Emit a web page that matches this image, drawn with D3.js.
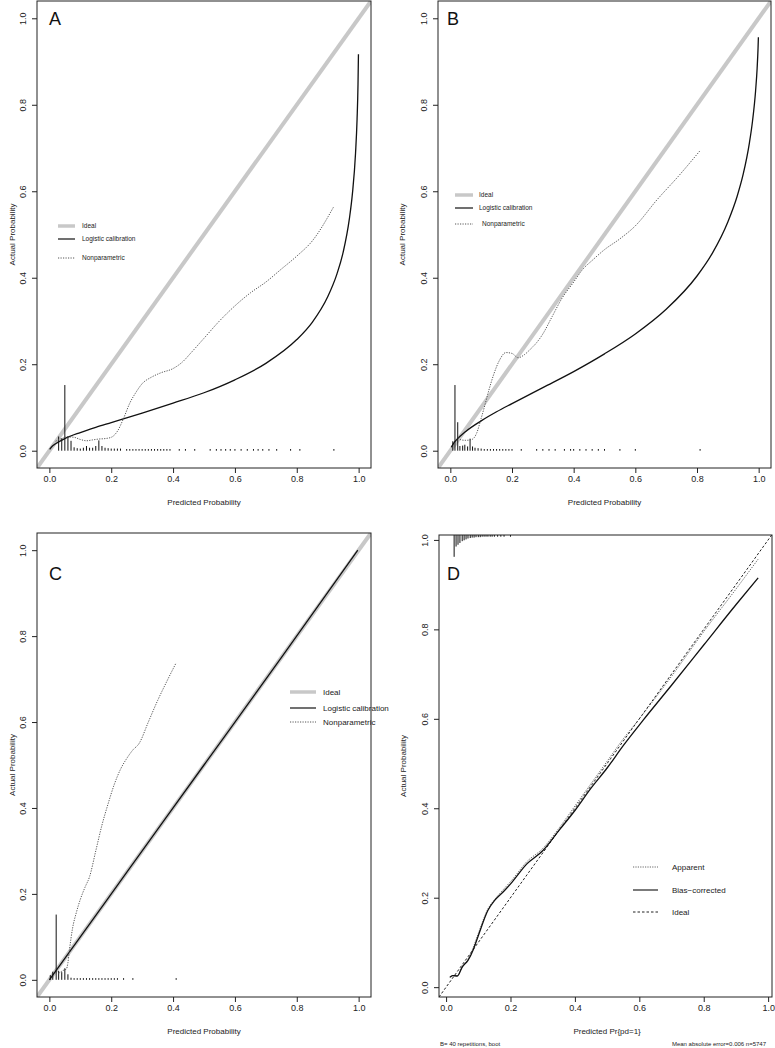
<!DOCTYPE html>
<html><head><meta charset="utf-8">
<script src="https://cdn.jsdelivr.net/npm/d3@7"></script>
<style>
body{margin:0;background:#fff;}
svg{display:block;font-family:"Liberation Sans",Arial,sans-serif;}
</style></head>
<body>
<svg id="chart" width="775" height="1048"></svg>
<script>
// ---------------- DATA ----------------
const tickVals = [0, 0.2, 0.4, 0.6, 0.8, 1.0];

// Panel A
const lcA_x = [0.001,0.01,0.02,0.05,0.1,0.15,0.2,0.3,0.4,0.5,0.6,0.7,0.8,0.85,0.9,0.93,0.95,0.97,0.98,0.99,0.995,0.998,0.9994];
const lcA_y = [0.003,0.011,0.016,0.028,0.042,0.054,0.065,0.087,0.11,0.134,0.164,0.202,0.257,0.297,0.356,0.409,0.459,0.536,0.595,0.688,0.767,0.848,0.917];
const npA_x = [0.02,0.04,0.06,0.08,0.1,0.12,0.14,0.16,0.18,0.2,0.22,0.24,0.26,0.28,0.3,0.33,0.36,0.4,0.43,0.46,0.5,0.55,0.6,0.65,0.7,0.75,0.8,0.85,0.92];
const npA_y = [0.022,0.028,0.032,0.031,0.026,0.023,0.025,0.027,0.028,0.031,0.045,0.075,0.11,0.135,0.155,0.17,0.18,0.19,0.205,0.228,0.26,0.3,0.335,0.365,0.39,0.42,0.45,0.485,0.565];
const rugA_x = [0.03,0.04,0.05,0.06,0.07,0.08,0.09,0.1,0.11,0.12,0.13,0.14,0.15,0.16,0.17,0.18,0.19,0.2,0.21,0.22,0.23,
  0.25,0.26,0.27,0.28,0.29,0.3,0.31,0.32,0.33,0.34,0.35,0.36,0.37,0.38,0.39,0.42,0.44,0.47,0.52,0.54,0.555,0.57,0.585,0.6,0.62,0.64,0.66,0.675,0.69,0.71,0.735,0.78,0.81,0.92];
const rugA_h = [0.031,0.027,0.15,0.031,0.021,0.006,0.004,0.003,0.005,0.009,0.005,0.005,0.009,0.022,0.009,0.005,0.004,0.003,0.003,0.003,0.003,
  0.002,0.002,0.002,0.002,0.002,0.002,0.002,0.002,0.002,0.002,0.002,0.002,0.002,0.002,0.002,0.002,0.002,0.002,0.002,0.002,0.002,0.002,0.002,0.002,0.002,0.002,0.002,0.002,0.002,0.002,0.002,0.002,0.002,0.002];

// Panel B
const lcB_x = [0.003,0.01,0.02,0.05,0.1,0.15,0.2,0.3,0.4,0.5,0.6,0.7,0.8,0.85,0.9,0.93,0.95,0.97,0.98,0.99,0.995,0.998,0.9991];
const lcB_y = [0.008,0.0165,0.025,0.0445,0.069,0.09,0.109,0.146,0.183,0.224,0.27,0.327,0.404,0.457,0.529,0.588,0.64,0.712,0.762,0.832,0.884,0.931,0.956];
const npB_x = [0.025,0.035,0.05,0.07,0.085,0.1,0.11,0.125,0.14,0.16,0.18,0.2,0.22,0.24,0.26,0.28,0.3,0.33,0.36,0.4,0.43,0.46,0.5,0.55,0.6,0.67,0.74,0.81];
const npB_y = [0.03,0.025,0.024,0.026,0.04,0.075,0.1,0.14,0.175,0.21,0.227,0.225,0.215,0.222,0.235,0.25,0.27,0.31,0.35,0.39,0.42,0.44,0.465,0.49,0.52,0.58,0.635,0.694];
const rugB_x = [0.008,0.015,0.024,0.031,0.04,0.047,0.056,0.064,0.072,0.08,0.09,0.1,0.11,0.12,0.13,0.14,0.15,0.16,0.17,0.18,0.19,0.2,0.23,0.28,0.3,0.32,0.34,0.37,0.39,0.4,0.42,0.44,0.46,0.48,0.5,0.55,0.6,0.81];
const rugB_h = [0.02,0.15,0.064,0.009,0.01,0.012,0.008,0.026,0.008,0.005,0.004,0.003,0.002,0.002,0.002,0.002,0.002,0.002,0.002,0.002,0.002,0.002,0.002,0.002,0.002,0.002,0.002,0.002,0.002,0.002,0.002,0.002,0.002,0.002,0.002,0.002,0.002,0.002];

// Panel C
const lcC_x = [0, 0.25, 0.5, 0.75, 0.997];
const lcC_y = [0, 0.25, 0.5, 0.75, 1.0];
const npC_x = [0.03,0.045,0.055,0.06,0.065,0.075,0.087,0.1,0.115,0.13,0.15,0.17,0.19,0.21,0.23,0.25,0.27,0.29,0.32,0.35,0.38,0.41];
const npC_y = [0.015,0.022,0.025,0.04,0.07,0.12,0.156,0.187,0.215,0.24,0.3,0.36,0.41,0.455,0.49,0.515,0.535,0.55,0.6,0.65,0.695,0.738];
const rugC_x = [0.003,0.011,0.022,0.03,0.04,0.05,0.06,0.07,0.08,0.09,0.1,0.11,0.12,0.13,0.14,0.15,0.16,0.17,0.18,0.19,0.2,0.21,0.22,0.24,0.27,0.41];
const rugC_h = [0.009,0.017,0.15,0.019,0.016,0.025,0.011,0.003,0.002,0.002,0.002,0.002,0.002,0.002,0.002,0.002,0.002,0.002,0.002,0.002,0.002,0.002,0.002,0.002,0.002,0.002];

// Panel D
const apD_x = [0.012,0.02,0.035,0.05,0.068,0.085,0.1,0.13,0.152,0.18,0.205,0.25,0.3,0.35,0.4,0.45,0.5,0.55,0.6,0.7,0.8,0.9,0.969];
const apD_y = [0.022,0.026,0.026,0.045,0.062,0.09,0.12,0.175,0.197,0.22,0.24,0.28,0.31,0.355,0.405,0.455,0.505,0.555,0.6,0.695,0.795,0.89,0.957];
const bcD_x = [0.012,0.02,0.035,0.05,0.068,0.085,0.1,0.13,0.152,0.18,0.205,0.25,0.3,0.35,0.4,0.45,0.5,0.55,0.612,0.7,0.8,0.9,0.969];
const bcD_y = [0.022,0.026,0.025,0.045,0.06,0.085,0.115,0.172,0.195,0.215,0.235,0.275,0.305,0.35,0.395,0.445,0.49,0.54,0.597,0.675,0.765,0.855,0.915];
const rugD_x = [0.025,0.031,0.037,0.043,0.05,0.056,0.062,0.068,0.075,0.081,0.087,0.093,0.1,0.106,0.112,0.118,0.124,0.13,0.137,0.143,0.15,0.16,0.17,0.18,0.2];
const rugD_h = [0.047,0.024,0.02,0.016,0.012,0.01,0.008,0.006,0.005,0.004,0.004,0.003,0.003,0.003,0.002,0.002,0.002,0.002,0.002,0.002,0.002,0.002,0.002,0.002,0.002];

const legendABC = ["Ideal", "Logistic calibration", "Nonparametric"];
const legendD = ["Apparent", "Bias\u2212corrected", "Ideal"];
const footD = ["B= 40 repetitions, boot", "Mean absolute error=0.006 n=5747"];

// ---------------- DRAW ----------------
const svg = d3.select("#chart");
const FONT = '"Liberation Sans",Arial,sans-serif';
const zip = (a, b) => a.map((v, i) => [v, b[i]]);

function panel(p) {
  const x = d3.scaleLinear().domain(p.xd).range([p.left, p.right]);
  const y = d3.scaleLinear().domain(p.yd).range([p.bottom, p.top]);
  const g = svg.append("g");
  svg.append("clipPath").attr("id", "clip" + p.id).append("rect")
    .attr("x", p.left).attr("y", p.top).attr("width", p.right - p.left).attr("height", p.bottom - p.top);
  const plot = g.append("g").attr("clip-path", `url(#clip${p.id})`);

  // x axis
  const xa = g.append("g").attr("transform", `translate(0,${p.bottom})`)
    .call(d3.axisBottom(x).tickValues(tickVals).tickFormat(d3.format(".1f")).tickSize(5).tickPadding(3));
  xa.select(".domain").remove();
  xa.selectAll("line").attr("stroke", "#222");
  xa.selectAll("text").attr("font-size", 9).attr("font-family", FONT).attr("fill", "#222");
  // y axis
  const ya = g.append("g").attr("transform", `translate(${p.left},0)`)
    .call(d3.axisLeft(y).tickValues(tickVals).tickFormat(d3.format(".1f")).tickSize(5));
  ya.select(".domain").remove();
  ya.selectAll("line").attr("stroke", "#222");
  ya.selectAll("text").attr("x", 0).attr("y", 0).attr("dy", "0.35em")
    .attr("text-anchor", "middle").attr("transform", "translate(-14,0) rotate(-90)")
    .attr("font-size", 9).attr("font-family", FONT).attr("fill", "#222");

  // titles
  g.append("text").attr("x", x(0.5)).attr("y", p.bottom + 34).attr("dy", "0.35em")
    .attr("text-anchor", "middle").attr("font-size", 8).attr("fill", "#222").text(p.xtitle);
  g.append("text").attr("transform", `translate(${p.left - p.ytOff},${(p.top + p.bottom) / 2}) rotate(-90)`)
    .attr("dy", "0.35em").attr("text-anchor", "middle").attr("font-size", 8).attr("fill", "#222").text("Actual Probability");

  return {x, y, g, plot};
}

const lineGen = (x, y) => d3.line().x(d => x(d[0])).y(d => y(d[1])).curve(d3.curveMonotoneX);

function calPanel(p, lc, np, rug, leg) {
  const {x, y, g, plot} = panel(p);
  // ideal
  plot.append("line").attr("x1", x(p.xd[0])).attr("y1", y(p.xd[0])).attr("x2", x(p.xd[1])).attr("y2", y(p.xd[1]))
    .attr("stroke", "#c8c8c8").attr("stroke-width", 4);
  // rug
  plot.selectAll(".rug").data(zip(rug[0], rug[1])).join("line")
    .attr("x1", d => x(d[0])).attr("x2", d => x(d[0]))
    .attr("y1", y(0)).attr("y2", d => y(d[1]) - 0.8)
    .attr("stroke", "#111").attr("stroke-width", 1);
  // logistic
  plot.append("path").datum(zip(lc[0], lc[1])).attr("d", lineGen(x, y))
    .attr("fill", "none").attr("stroke", "#111").attr("stroke-width", 1.3);
  // nonparametric
  plot.append("path").datum(zip(np[0], np[1])).attr("d", lineGen(x, y))
    .attr("fill", "none").attr("stroke", "#555").attr("stroke-width", 1).attr("stroke-dasharray", "1.2,1.3");
  // box
  g.append("rect").attr("x", p.left).attr("y", p.top).attr("width", p.right - p.left).attr("height", p.bottom - p.top)
    .attr("fill", "none").attr("stroke", "#222").attr("stroke-width", 1);
  // panel letter
  g.append("text").attr("x", p.lx).attr("y", p.ly).attr("font-size", 18).attr("fill", "#111").text(p.letter);
  // legend
  const styles = [
    {stroke: "#c8c8c8", w: 3.5, dash: null},
    {stroke: "#111", w: 1.2, dash: null},
    {stroke: "#555", w: 1, dash: "1.2,1.3"}
  ];
  legendABC.forEach((t, i) => {
    g.append("line").attr("x1", leg.x1).attr("x2", leg.x2).attr("y1", leg.ys[i]).attr("y2", leg.ys[i])
      .attr("stroke", styles[i].stroke).attr("stroke-width", styles[i].w).attr("stroke-dasharray", styles[i].dash);
    g.append("text").attr("x", leg.tx[i]).attr("y", leg.ys[i]).attr("dy", "0.35em")
      .attr("font-size", leg.fs).attr("fill", "#222").text(t);
  });
}

calPanel({id: "A", left: 37, right: 371, top: 1, bottom: 468, xd: [-0.04, 1.04], yd: [-0.04, 1.04],
  xtitle: "Predicted Probability", ytOff: 25, letter: "A", lx: 49, ly: 25},
  [lcA_x, lcA_y], [npA_x, npA_y], [rugA_x, rugA_h],
  {x1: 58, x2: 75, ys: [226, 239, 258], tx: [82, 82, 82], fs: 6.5});

calPanel({id: "B", left: 438, right: 771, top: 1, bottom: 468, xd: [-0.04, 1.04], yd: [-0.04, 1.04],
  xtitle: "Predicted Probability", ytOff: 36, letter: "B", lx: 447, ly: 25},
  [lcB_x, lcB_y], [npB_x, npB_y], [rugB_x, rugB_h],
  {x1: 455, x2: 473, ys: [195, 208, 224], tx: [479, 479, 482], fs: 6.5});

calPanel({id: "C", left: 37, right: 371, top: 533, bottom: 997, xd: [-0.04, 1.04], yd: [-0.04, 1.04],
  xtitle: "Predicted Probability", ytOff: 25, letter: "C", lx: 49, ly: 580},
  [lcC_x, lcC_y], [npC_x, npC_y], [rugC_x, rugC_h],
  {x1: 290, x2: 316, ys: [692, 708, 722], tx: [323, 323, 323], fs: 8});

// Panel D
(function () {
  const p = {id: "D", left: 439, right: 772, top: 535, bottom: 997, xd: [-0.022, 1.012], yd: [-0.022, 1.011],
    xtitle: "Predicted Pr{pd=1}", ytOff: 36};
  const {x, y, g, plot} = panel(p);
  // rug at top
  plot.selectAll(".rugd").data(zip(rugD_x, rugD_h)).join("line")
    .attr("x1", d => x(d[0])).attr("x2", d => x(d[0]))
    .attr("y1", y(p.yd[1])).attr("y2", d => y(p.yd[1] - d[1]) + 0.8)
    .attr("stroke", "#111").attr("stroke-width", 1);
  // ideal dashed
  plot.append("line").attr("x1", x(p.xd[0])).attr("y1", y(p.xd[0])).attr("x2", x(p.xd[1])).attr("y2", y(p.xd[1]))
    .attr("stroke", "#222").attr("stroke-width", 1).attr("stroke-dasharray", "2.5,2");
  plot.append("path").datum(zip(apD_x, apD_y)).attr("d", lineGen(x, y))
    .attr("fill", "none").attr("stroke", "#666").attr("stroke-width", 1).attr("stroke-dasharray", "1.2,1.2");
  plot.append("path").datum(zip(bcD_x, bcD_y)).attr("d", lineGen(x, y))
    .attr("fill", "none").attr("stroke", "#111").attr("stroke-width", 1.3);
  g.append("rect").attr("x", p.left).attr("y", p.top).attr("width", p.right - p.left).attr("height", p.bottom - p.top)
    .attr("fill", "none").attr("stroke", "#222").attr("stroke-width", 1);
  g.append("text").attr("x", 447).attr("y", 580).attr("font-size", 18).attr("fill", "#111").text("D");
  const st = [{s: "#666", w: 1, d: "1.2,1.2"}, {s: "#222", w: 1.2, d: null}, {s: "#222", w: 1, d: "2.5,2"}];
  const ly = [867, 890, 912];
  legendD.forEach((t, i) => {
    g.append("line").attr("x1", 633).attr("x2", 658).attr("y1", ly[i]).attr("y2", ly[i])
      .attr("stroke", st[i].s).attr("stroke-width", st[i].w).attr("stroke-dasharray", st[i].d);
    g.append("text").attr("x", 672).attr("y", ly[i]).attr("dy", "0.35em").attr("font-size", 8).attr("fill", "#222").text(t);
  });
  g.append("text").attr("x", 440).attr("y", 1044).attr("dy", "0.35em").attr("font-size", 6).attr("fill", "#222").text(footD[0]);
  g.append("text").attr("x", 766).attr("y", 1044).attr("dy", "0.35em").attr("text-anchor", "end").attr("font-size", 6).attr("fill", "#222").text(footD[1]);
})();
</script>
</body></html>
